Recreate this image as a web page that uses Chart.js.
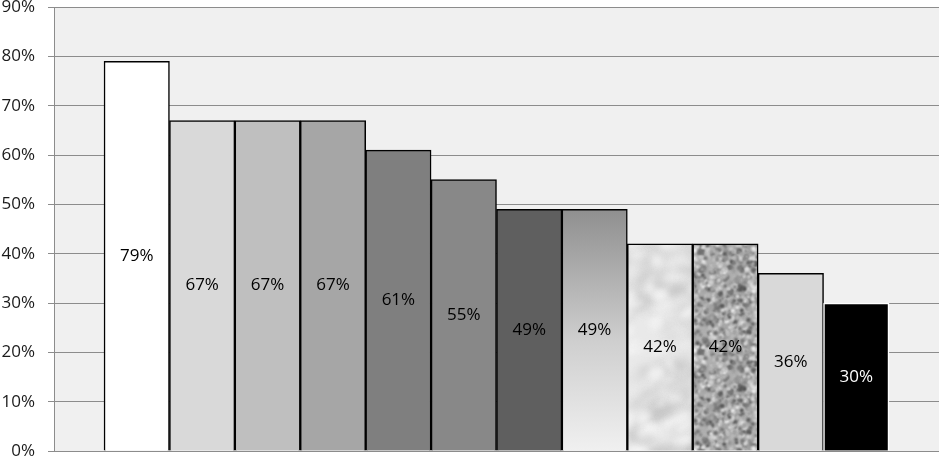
<!DOCTYPE html>
<html>
<head>
<meta charset="utf-8">
<script src="https://cdn.jsdelivr.net/npm/chart.js@4.4.1/dist/chart.umd.min.js"></script>
<style>
  html, body { margin: 0; padding: 0; background: #fff; }
  #wrap { width: 939px; height: 463px; position: relative; }
</style>
</head>
<body>
<div id="wrap"><canvas id="chart"></canvas></div>
<script>
// data
const categories = ['A', 'B', 'C', 'D', 'E', 'F', 'G', 'H', 'I', 'J', 'K', 'L'];
const values = [79, 67, 67, 67, 61, 55, 49, 49, 42, 42, 36, 30];
const yTicks = [0, 10, 20, 30, 40, 50, 60, 70, 80, 90];

// seeded rng, only for the stone textures
function rng(seed) {
  return function () {
    seed |= 0; seed = seed + 0x6D2B79F5 | 0;
    let t = Math.imul(seed ^ seed >>> 15, 1 | seed);
    t = t + Math.imul(t ^ t >>> 7, 61 | t) ^ t;
    return ((t ^ t >>> 14) >>> 0) / 4294967296;
  };
}

// draw a blob and its wrapped copies so the tile repeats without seams
function blob(g, w, h, x, y, rx, ry, rot) {
  for (let dx = -w; dx <= w; dx += w) {
    for (let dy = -h; dy <= h; dy += h) {
      g.beginPath();
      g.ellipse(x + dx, y + dy, rx, ry, rot, 0, Math.PI * 2);
      g.fill();
    }
  }
}

function marbleTile() {
  const c = document.createElement('canvas'); c.width = 130; c.height = 260;
  const g = c.getContext('2d'), r = rng(7), w = c.width, h = c.height;
  g.fillStyle = '#e9e9e9'; g.fillRect(0, 0, w, h);
  g.filter = 'blur(4px)';
  for (let i = 0; i < 220; i++) {
    const v = 165 + Math.floor(r() * 50);
    g.fillStyle = 'rgba(' + v + ',' + v + ',' + v + ',' + (0.25 + r() * 0.35) + ')';
    blob(g, w, h, r() * w, r() * h, 4 + r() * 12, 2 + r() * 4, -0.6 + r() * 0.5);
  }
  g.filter = 'blur(3px)';
  for (let i = 0; i < 140; i++) {
    g.fillStyle = 'rgba(250,250,250,' + (0.4 + r() * 0.4) + ')';
    blob(g, w, h, r() * w, r() * h, 3 + r() * 9, 2 + r() * 4, -0.6 + r() * 0.5);
  }
  return c;
}

function graniteTile() {
  const c = document.createElement('canvas'); c.width = 100; c.height = 100;
  const g = c.getContext('2d'), r = rng(13), w = c.width, h = c.height;
  g.fillStyle = '#b0b0b0'; g.fillRect(0, 0, w, h);
  g.filter = 'blur(1.1px)';
  for (let i = 0; i < 1300; i++) {
    const v = 70 + Math.floor(r() * 175);
    g.fillStyle = 'rgb(' + v + ',' + v + ',' + v + ')';
    const rad = 1 + r() * 1.6;
    blob(g, w, h, r() * w, r() * h, rad, rad, 0);
  }
  return c;
}

const ctx = document.getElementById('chart');
const ctx2d = ctx.getContext('2d');
const marble = ctx2d.createPattern(marbleTile(), 'repeat');
const granite = ctx2d.createPattern(graniteTile(), 'repeat');

const fills = ['#ffffff', '#d9d9d9', '#bfbfbf', '#a6a6a6', '#7f7f7f', '#888888', '#5f5f5f',
  'gradient', marble, granite, '#d9d9d9', '#000000'];
const borders = ['#000', '#000', '#000', '#000', '#000', '#000', '#000', '#000', '#000', '#000', '#000', '#fff'];
const labelColors = ['#000', '#000', '#000', '#000', '#000', '#000', '#000', '#000', '#000', '#000', '#000', '#fff'];

function barFill(c) {
  const f = fills[c.dataIndex];
  if (f !== 'gradient') return f;
  const area = c.chart.chartArea;
  if (!area) return '#bbbbbb';
  const y = c.chart.scales.y;
  const gr = c.chart.ctx.createLinearGradient(0, y.getPixelForValue(values[c.dataIndex]), 0, y.getPixelForValue(0));
  gr.addColorStop(0, '#8f8f8f');
  gr.addColorStop(0.55, '#cfcfcf');
  gr.addColorStop(1, '#f0f0f0');
  return gr;
}

const plotBg = {
  id: 'plotBg',
  beforeDraw(chart) {
    const a = chart.chartArea, c = chart.ctx;
    c.save(); c.fillStyle = '#f0f0f0';
    c.fillRect(a.left, a.top, a.right - a.left, a.bottom - a.top);
    c.restore();
  }
};

const barLabels = {
  id: 'barLabels',
  afterDatasetsDraw(chart) {
    const c = chart.ctx, meta = chart.getDatasetMeta(0);
    c.save();
    c.font = '17px "Open Sans"';
    c.textAlign = 'center'; c.textBaseline = 'middle';
    meta.data.forEach(function (bar, i) {
      c.fillStyle = labelColors[i];
      c.fillText(values[i] + '%', bar.x, (bar.y + bar.base) / 2);
    });
    c.restore();
  }
};

new Chart(ctx, {
  type: 'bar',
  data: {
    labels: categories,
    datasets: [{
      data: values.map((v, i) => ({ x: i, y: v })),
      backgroundColor: barFill,
      borderColor: borders,
      borderWidth: 1.5,
      barPercentage: 1,
      categoryPercentage: 1
    }]
  },
  options: {
    responsive: true,
    maintainAspectRatio: false,
    animation: false,
    layout: { padding: { top: 7, bottom: 12, left: 0, right: 0 } },
    plugins: { legend: { display: false }, tooltip: { enabled: false } },
    scales: {
      x: {
        type: 'linear', min: -1.265, max: 12.265, offset: false,
        display: false
      },
      y: {
        min: 0, max: 90,
        afterBuildTicks: s => { s.ticks = yTicks.map(v => ({ value: v })); },
        afterFit: s => { s.width = 54; s.paddingTop = 0; s.paddingBottom = 0; },
        border: { display: true, color: '#8c8c8c', width: 1 },
        grid: { color: '#8c8c8c', lineWidth: 1, tickLength: 6, drawTicks: true },
        ticks: {
          color: '#1a1a1a', padding: 13,
          font: { family: 'Open Sans', size: 17 },
          callback: v => v + '%'
        }
      }
    }
  },
  plugins: [plotBg, barLabels]
});
</script>
</body>
</html>
